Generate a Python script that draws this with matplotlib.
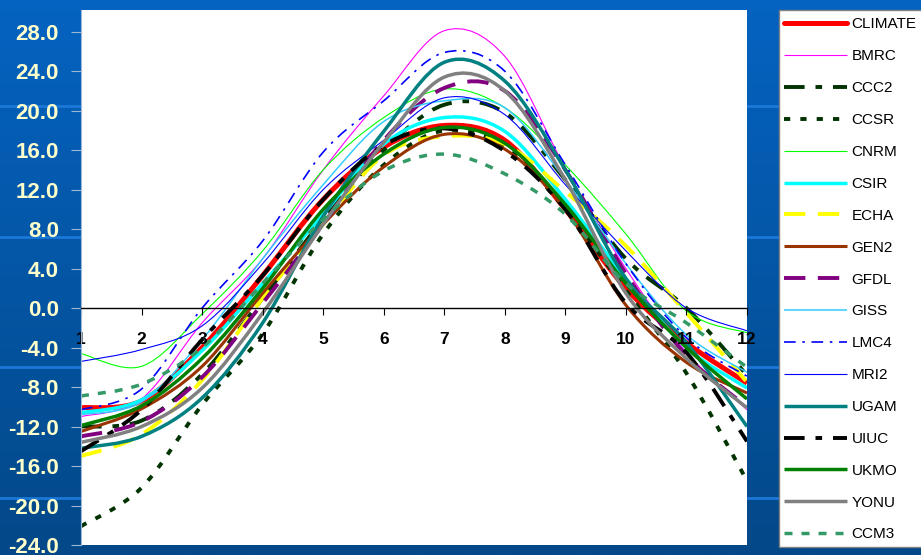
import numpy as np
import matplotlib
matplotlib.use("Agg")
import matplotlib.pyplot as plt
from matplotlib.path import Path
from matplotlib.patches import PathPatch, Rectangle
from matplotlib.lines import Line2D

plt.rcParams['font.family'] = ['Liberation Sans', 'DejaVu Sans']

# datos mensuales
months = np.arange(1, 13)
climate = [-10.1, -9.4, -4.0, 3.3, 11.0, 16.3, 18.5, 17.0, 10.0, 2.0, -3.5, -7.6]
bmrc = [-11.0, -9.2, -1.5, 5.0, 14.0, 21.5, 28.1, 25.5, 14.2, 4.0, -4.5, -10.3]
ccc2 = [-12.0, -11.4, -6.7, 1.0, 9.0, 16.0, 20.6, 19.8, 13.0, 5.0, 0.0, -6.8]
ccsr = [-22.1, -18.2, -9.8, -2.6, 7.5, 14.5, 18.0, 16.3, 10.0, 1.8, -6.6, -17.5]
cnrm = [-4.6, -5.9, -0.6, 5.8, 14.0, 19.3, 22.2, 20.3, 14.5, 7.5, -0.3, -2.5]
csir = [-10.6, -9.3, -4.3, 2.5, 9.5, 16.6, 19.3, 17.9, 11.0, 3.0, -4.0, -8.1]
echa = [-15.0, -12.8, -7.3, 1.0, 8.5, 15.5, 17.4, 16.6, 11.8, 6.3, -0.5, -7.5]
gen2 = [-12.5, -10.2, -5.9, 1.5, 8.5, 14.3, 17.6, 16.1, 10.0, 0.3, -5.5, -8.6]
gfdl = [-13.0, -11.5, -7.0, 0.5, 8.5, 17.0, 22.3, 22.0, 14.0, 3.5, -4.8, -10.0]
giss = [-10.8, -9.5, -3.2, 5.0, 12.5, 18.9, 21.0, 20.3, 13.0, 4.5, -2.7, -6.5]
lmc4 = [-10.3, -8.2, 0.0, 6.8, 15.8, 21.0, 25.9, 24.0, 14.5, 4.5, -3.0, -6.9]
mri2 = [-5.4, -4.2, -1.8, 4.5, 12.0, 17.0, 21.3, 19.6, 12.5, 5.8, 0.0, -2.3]
ugam = [-14.2, -13.0, -9.1, -1.5, 9.3, 17.9, 24.9, 23.0, 14.0, 3.0, -3.5, -12.0]
uiuc = [-14.5, -10.3, -3.2, 3.3, 11.0, 16.5, 18.2, 15.9, 10.0, 0.5, -4.5, -13.5]
ukmo = [-11.9, -9.9, -5.1, 2.0, 10.0, 15.6, 18.3, 16.7, 10.5, 2.5, -4.0, -9.2]
yonu = [-13.6, -12.0, -8.1, -0.5, 8.5, 16.8, 23.4, 22.0, 13.0, 1.5, -5.1, -10.1]
ccm3 = [-8.9, -7.7, -4.0, 2.5, 9.0, 13.9, 15.6, 13.6, 9.5, 2.5, -1.5, -6.0]

names = ['CLIMATE', 'BMRC', 'CCC2', 'CCSR', 'CNRM', 'CSIR', 'ECHA', 'GEN2', 'GFDL',
         'GISS', 'LMC4', 'MRI2', 'UGAM', 'UIUC', 'UKMO', 'YONU', 'CCM3']
series = [climate, bmrc, ccc2, ccsr, cnrm, csir, echa, gen2, gfdl,
          giss, lmc4, mri2, ugam, uiuc, ukmo, yonu, ccm3]

# estilo: color, ancho, tipo de linea
styles = {
    'CLIMATE': ('#FF0000', 3.6, '-'),
    'BMRC': ('#FF00FF', 0.8, '-'),
    'CCC2': ('#003300', 2.8, (0, (5.3, 2.8, 1.7, 2.8))),
    'CCSR': ('#003300', 2.8, (0, (1.6, 2.6))),
    'CNRM': ('#00FF00', 0.8, '-'),
    'CSIR': ('#00FFFF', 2.5, '-'),
    'ECHA': ('#FFFF00', 2.8, (0, (5.5, 3.2))),
    'GEN2': ('#993300', 2.2, '-'),
    'GFDL': ('#800080', 2.8, (0, (5.5, 3.2))),
    'GISS': ('#33CCFF', 1.1, '-'),
    'LMC4': ('#0000FF', 1.2, (0, (7, 4, 1.5, 4))),
    'MRI2': ('#0000FF', 0.8, '-'),
    'UGAM': ('#008080', 2.5, '-'),
    'UIUC': ('#000000', 2.8, (0, (5.3, 2.8, 1.7, 2.8))),
    'UKMO': ('#008000', 2.5, '-'),
    'YONU': ('#808080', 2.5, '-'),
    'CCM3': ('#339966', 2.5, (0, (2.3, 2.6))),
}


def smooth_path(x, y):
    # curva suave tipo excel (bezier cubico)
    p = np.column_stack([x, y]).astype(float)
    n = len(p)
    verts = [p[0]]
    codes = [Path.MOVETO]
    for i in range(n - 1):
        p0 = p[i - 1] if i > 0 else p[i]
        p3 = p[i + 2] if i + 2 < n else p[i + 1]
        c1 = p[i] + (p[i + 1] - p0) / 6.0
        c2 = p[i + 1] - (p3 - p[i]) / 6.0
        verts += [c1, c2, p[i + 1]]
        codes += [Path.CURVE4] * 3
    return Path(verts, codes)


W, H = 921, 555
fig = plt.figure(figsize=(W / 100, H / 100), dpi=100)

# fondo azul
bg = fig.add_axes([0, 0, 1, 1], zorder=-10)
top_c = np.array([0x05, 0x63, 0xC1]) / 255
bot_c = np.array([0x03, 0x48, 0x88]) / 255
t = np.linspace(0, 1, 256)[:, None]
grad = top_c[None, None, :] * (1 - t[..., None]) + bot_c[None, None, :] * t[..., None]
grad = np.repeat(grad, 2, axis=1)
bg.imshow(grad, aspect='auto', extent=[0, W, H, 0])
for yy in [106, 237, 367, 498]:
    bg.axhline(yy, color='#1B78D8', lw=2.0)
bg.set_xlim(0, W)
bg.set_ylim(H, 0)
bg.axis('off')

ax = fig.add_axes([81 / W, 1 - 545 / H, 666 / W, 535 / H])
ax.set_facecolor('white')

handles = []
for name, vals in zip(names, series):
    c, lw, ls = styles[name]
    patch = PathPatch(smooth_path(months, vals), fill=False, edgecolor=c, lw=lw,
                      linestyle=ls, capstyle='butt', joinstyle='round')
    ax.add_patch(patch)
    handles.append(Line2D([], [], color=c, lw=lw, linestyle=ls,
                          solid_capstyle='round' if name == 'CLIMATE' else 'butt'))

ax.set_xlim(1, 12)
ax.set_ylim(-24, 30.2)
ax.set_yticks(np.arange(-24, 29, 4))
ax.set_yticklabels([f"{v:.1f}" for v in np.arange(-24, 29, 4)])
ax.set_xticks(months)

for s in ['top', 'right']:
    ax.spines[s].set_visible(False)
ax.spines['bottom'].set_position(('data', 0))
ax.spines['bottom'].set_color('black')
ax.spines['bottom'].set_linewidth(1.0)
ax.spines['left'].set_color('#9DB7D6')

ax.tick_params(axis='y', direction='out', length=7, color='#9DB7D6', pad=9,
               labelsize=16, labelcolor='#FFFFCC')
ax.tick_params(axis='x', direction='out', length=5, color='black', pad=12,
               labelsize=12.5, labelcolor='black')
for lab in ax.get_yticklabels() + ax.get_xticklabels():
    lab.set_fontweight('bold')

# leyenda
fig.patches.append(Rectangle((779 / W, 1 - 547 / H), 160 / W, 537 / H,
                             transform=fig.transFigure, facecolor='white',
                             edgecolor='#808080', lw=1.0, zorder=1))
leg = fig.legend(handles, names, loc='upper left', bbox_to_anchor=(784 / W, 1 - 17.5 / H),
                 frameon=False, fontsize=11, handlelength=4.1, handletextpad=0.33,
                 labelspacing=1.17, borderaxespad=0, borderpad=0)
leg.set_zorder(2)

fig.savefig('out.png', dpi=100)
